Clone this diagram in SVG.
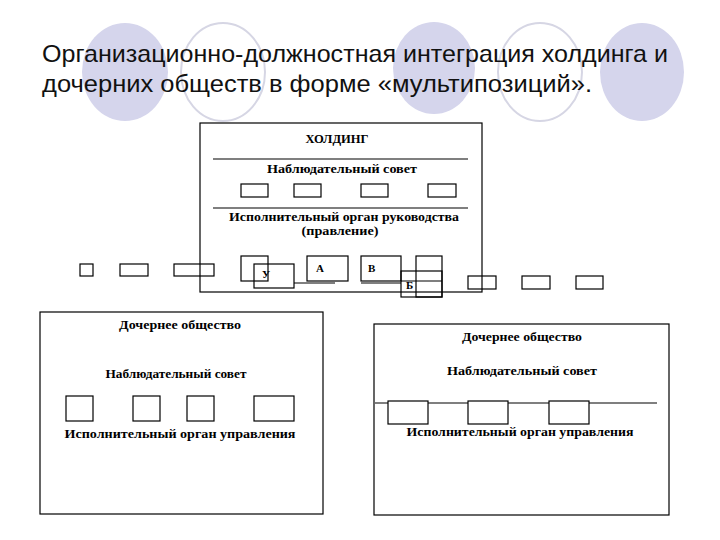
<svg xmlns="http://www.w3.org/2000/svg" width="720" height="540" viewBox="0 0 720 540">
<defs>
<style>
.bg{fill:#d5d5ec;stroke:none}
.ring{fill:#fff;stroke:#d6d6e4;stroke-width:2}
.title{font-family:"Liberation Sans",Arial,sans-serif;font-size:24px;fill:#111}
.b{fill:#fff;stroke:#000;stroke-width:1.2}
.bx{fill:none;stroke:#000;stroke-width:1.2}
.ln{stroke:#000;stroke-width:1.2;fill:none}
.t{font-family:"Liberation Serif","Times New Roman",serif;font-weight:bold;font-size:12px;fill:#000;text-anchor:middle}
.tl{font-family:"Liberation Serif","Times New Roman",serif;font-weight:bold;font-size:11px;fill:#000}
</style>
</defs>
<rect width="720" height="540" fill="#fff"/>
<g id="background">
<ellipse class="bg" cx="125" cy="72" rx="43" ry="49"/>
<ellipse class="ring" cx="223" cy="72" rx="42" ry="49"/>
<ellipse class="bg" cx="434" cy="68" rx="41" ry="46"/>
<ellipse class="ring" cx="540" cy="72" rx="42" ry="49"/>
<ellipse class="bg" cx="642" cy="72" rx="42" ry="49"/>
</g>
<g id="title">
<text class="title" x="42" y="62" textLength="626" lengthAdjust="spacingAndGlyphs">Организационно-должностная интеграция холдинга и</text>
<text class="title" x="42" y="92" textLength="550" lengthAdjust="spacingAndGlyphs">дочерних обществ в форме «мультипозиций».</text>
</g>
<g id="holding">
<rect class="bx" x="200" y="123" width="282" height="169"/>
<text class="t" x="337" y="143" textLength="63" lengthAdjust="spacingAndGlyphs">ХОЛДИНГ</text>
<line class="ln" x1="213" y1="159" x2="468" y2="159"/>
<text class="t" x="342" y="173" textLength="150" lengthAdjust="spacingAndGlyphs">Наблюдательный совет</text>
<rect class="b" x="241" y="184" width="27" height="13"/>
<rect class="b" x="294" y="184" width="27" height="13"/>
<rect class="b" x="361" y="184" width="27" height="13"/>
<rect class="b" x="428" y="184" width="28" height="13"/>
<line class="ln" x1="213" y1="208" x2="468" y2="208"/>
<text class="t" x="344" y="221" textLength="230" lengthAdjust="spacingAndGlyphs">Исполнительный орган руководства</text>
<text class="t" x="340" y="235" textLength="77" lengthAdjust="spacingAndGlyphs">(правление)</text>
</g>
<g id="board-boxes">
<rect class="bx" x="241" y="256" width="27" height="25"/>
<rect class="bx" x="254" y="264" width="40" height="24"/>
<text class="tl" x="262" y="278">У</text>
<rect class="bx" x="307" y="256" width="41" height="25"/>
<text class="tl" x="316" y="272">А</text>
<rect class="bx" x="361" y="256" width="40" height="25"/>
<text class="tl" x="368" y="272">В</text>
<rect class="bx" x="416" y="256" width="26" height="41"/>
<rect class="bx" x="401" y="271" width="41" height="26"/>
<line class="ln" x1="401" y1="281" x2="442" y2="281"/>
<text class="tl" x="406" y="289" font-weight="normal">Б</text>
</g>
<g id="side-boxes">
<rect class="bx" x="80" y="264" width="13" height="12"/>
<rect class="bx" x="120" y="264" width="28" height="12"/>
<rect class="bx" x="174" y="264" width="40" height="12"/>
<rect class="bx" x="468" y="276" width="28" height="13"/>
<rect class="bx" x="522" y="276" width="28" height="13"/>
<rect class="bx" x="576" y="276" width="27" height="13"/>
</g>
<g id="connectors">
<line class="ln" x1="294" y1="283" x2="335" y2="283"/>
<line class="ln" x1="361" y1="283" x2="401" y2="283"/>
</g>
<g id="subsidiary-left">
<rect class="bx" x="40" y="312" width="283" height="202"/>
<text class="t" x="180" y="329" textLength="122" lengthAdjust="spacingAndGlyphs">Дочернее общество</text>
<text class="t" x="176" y="378" textLength="141" lengthAdjust="spacingAndGlyphs">Наблюдательный совет</text>
<rect class="b" x="66" y="396" width="27" height="25"/>
<rect class="b" x="133" y="396" width="27" height="25"/>
<rect class="b" x="187" y="396" width="27" height="25"/>
<rect class="b" x="254" y="396" width="40" height="25"/>
<text class="t" x="180" y="438" textLength="231" lengthAdjust="spacingAndGlyphs">Исполнительный орган управления</text>
</g>
<g id="subsidiary-right">
<rect class="bx" x="374" y="324" width="295" height="191"/>
<text class="t" x="522" y="341" textLength="120" lengthAdjust="spacingAndGlyphs">Дочернее общество</text>
<text class="t" x="522" y="375" textLength="150" lengthAdjust="spacingAndGlyphs">Наблюдательный совет</text>
<line class="ln" x1="375" y1="403" x2="657" y2="403"/>
<rect class="b" x="388" y="401" width="40" height="23"/>
<rect class="b" x="468" y="401" width="40" height="23"/>
<rect class="b" x="549" y="401" width="40" height="23"/>
<text class="t" x="520" y="436" textLength="227" lengthAdjust="spacingAndGlyphs">Исполнительный орган управления</text>
</g>
</svg>
